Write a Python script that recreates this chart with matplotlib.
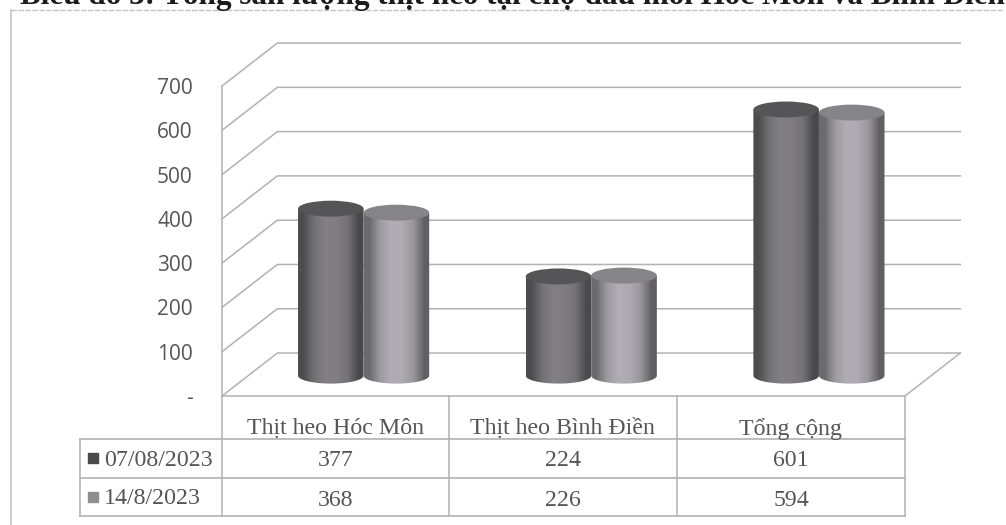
import matplotlib
matplotlib.use('Agg')
import matplotlib.pyplot as plt
import numpy as np
from matplotlib.patches import Polygon, Ellipse

# Dữ liệu
categories = ['Thịt heo Hóc Môn', 'Thịt heo Bình Điền', 'Tổng cộng']
series_names = ['07/08/2023', '14/8/2023']
values_1 = [377, 224, 601]
values_2 = [368, 226, 594]
y_ticks = [0, 100, 200, 300, 400, 500, 600, 700]
y_labels = ['-', '100', '200', '300', '400', '500', '600', '700']
title = 'Biểu đồ 3: Tổng sản lượng thịt heo tại chợ đầu mối Hóc Môn và Bình Điền'

W, H = 1006, 525
SERIF = 'Liberation Serif'
TEXT = '#555555'
LINE = '#b2b2b2'

fig = plt.figure(figsize=(W / 100, H / 100), dpi=100, facecolor='white')

# Lớp nền theo pixel: khung ngoài, tiêu đề, bảng dữ liệu
page = fig.add_axes([0, 0, 1, 1])
page.set_xlim(0, W)
page.set_ylim(H, 0)
page.axis('off')

# Trục chính: mặt trước của khung 3D
ax = fig.add_axes([222 / W, (H - 396) / H, 683 / W, 310 / H])
ax.patch.set_alpha(0)
ax.set_xlim(-0.5, 2.5)
ax.set_ylim(0, 700)
ax.set_xticks([])
ax.set_yticks(y_ticks)
ax.set_yticklabels(y_labels, fontsize=15, color=TEXT, family='Open Sans')
ax.tick_params(axis='y', length=0, pad=21)
for side in ['top', 'right', 'bottom']:
    ax.spines[side].set_visible(False)
ax.spines['left'].set_color(LINE)
ax.spines['left'].set_linewidth(1.1)

# Độ sâu của hiệu ứng 3D (đơn vị dữ liệu)
depth_x = 0.243
depth_y = 97
x_left, x_right = -0.5, 2.5

for t in y_ticks:
    ax.plot([x_left, x_left + depth_x, x_right + depth_x],
            [t, t + depth_y, t + depth_y],
            color=LINE, lw=1.1, clip_on=False, zorder=1)
ax.plot([x_left, x_right, x_right + depth_x], [0, 0, depth_y],
        color=LINE, lw=1.1, clip_on=False, zorder=1)


def draw_cylinder(ax, cx, value, width, base, colors, top_color):
    """Vẽ một cột hình trụ có đổ bóng ngang"""
    half_h = 18
    th = np.linspace(np.pi, 2 * np.pi, 40)
    low_x = cx + width / 2 * np.cos(th)
    low_y = base + half_h * np.sin(th)
    top = base + value
    poly_x = np.r_[low_x, cx + width / 2, cx - width / 2]
    poly_y = np.r_[low_y, top, top]
    body = Polygon(np.c_[poly_x, poly_y], closed=True, fc='none', ec='none',
                   transform=ax.transData)
    ax.add_patch(body)
    img = ax.imshow(np.array(colors)[None, :, :],
                    extent=[cx - width / 2, cx + width / 2, base - half_h, top],
                    aspect='auto', interpolation='bilinear', zorder=3)
    img.set_clip_path(body)
    img.set_clip_on(True)
    cap = Ellipse((cx, top), width, half_h * 2, fc=top_color, ec='none', zorder=4)
    ax.add_patch(cap)


dark = [(0.30, 0.30, 0.31), (0.45, 0.45, 0.46), (0.51, 0.50, 0.52),
        (0.50, 0.49, 0.51), (0.46, 0.45, 0.47), (0.29, 0.29, 0.30)]
light = [(0.42, 0.42, 0.43), (0.62, 0.61, 0.63), (0.69, 0.68, 0.71),
         (0.68, 0.67, 0.70), (0.60, 0.59, 0.61), (0.38, 0.38, 0.39)]

bar_w = 0.288
bar_shift = 0.122
base_y = 46
for i in range(len(categories)):
    draw_cylinder(ax, i + bar_shift - bar_w / 2, values_1[i], bar_w, base_y,
                  dark, '#555557')
    draw_cylinder(ax, i + bar_shift + bar_w / 2, values_2[i], bar_w, base_y,
                  light, '#858488')
ax.set_xlim(-0.5, 2.5)
ax.set_ylim(0, 700)

# Khung ngoài
page.plot([11, 11], [H, 10], color='#c4c4c4', lw=1.2)
page.plot([11, 1003], [10, 10], color='#c4c4c4', lw=1.0, ls=(0, (4, 1)))

# Tiêu đề (bị cắt ở mép trên như bản gốc)
page.text(512, 4, title, fontsize=22.4, fontweight='bold', family=SERIF,
          color='#1c1c1c', ha='center', va='baseline', clip_on=False)

# Bảng dữ liệu
col_x = [222, 449, 677, 905]
row_y = [396, 439, 478, 516]
for x in col_x:
    page.plot([x, x], [row_y[0], row_y[-1]], color=LINE, lw=1.1)
for y in row_y[1:]:
    page.plot([80, col_x[-1]], [y, y], color=LINE, lw=1.2)
page.plot([80, 80], [row_y[1], row_y[-1]], color=LINE, lw=1.1)

centers = [(col_x[i] + col_x[i + 1]) / 2 for i in range(3)]
for c, name in zip(centers, categories):
    page.text(c, 429, name, fontsize=17.2, family=SERIF, color=TEXT,
              ha='center', va='center')
for y, row in zip([461, 500], [values_1, values_2]):
    for c, v in zip(centers, row):
        page.text(c, y, str(v), fontsize=17.2, family=SERIF, color=TEXT,
                  ha='center', va='center')
for y, name, col in zip([458, 497], series_names, ['#4a4a4c', '#8e8e90']):
    page.plot([93], [y], marker='s', ms=6.5, color=col, ls='none')
    page.text(104, y + 2, name, fontsize=17.2, family=SERIF, color=TEXT,
              ha='left', va='center')

fig.savefig('out.png', dpi=100, facecolor='white')
